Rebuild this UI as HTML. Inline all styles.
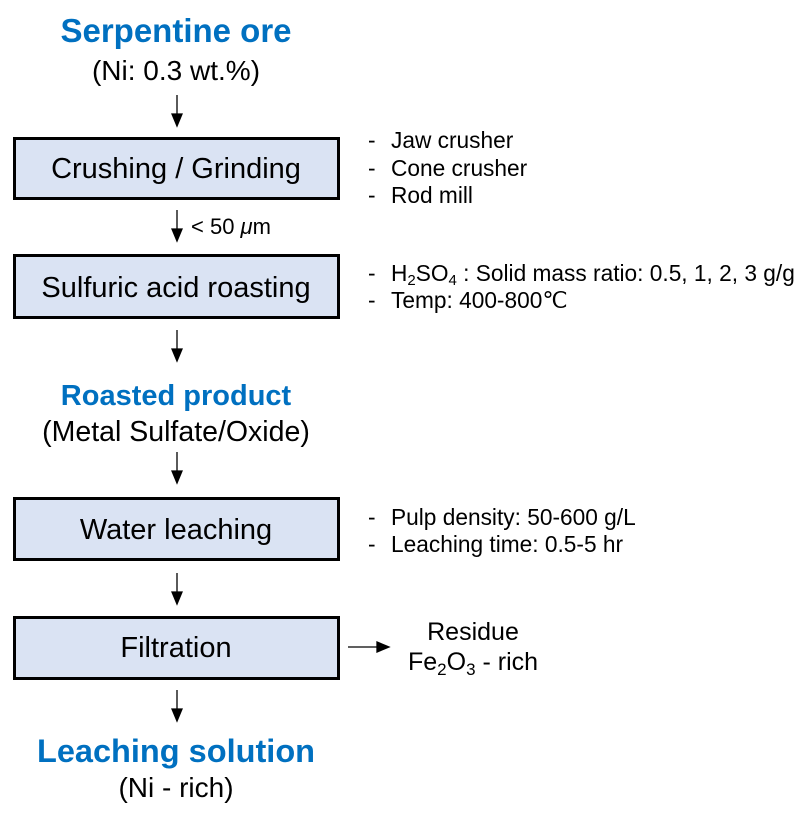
<!DOCTYPE html>
<html><head><style>
body{margin:0;background:#fff;width:810px;height:822px;overflow:hidden}
svg text{font-family:"Liberation Sans",sans-serif}
</style></head><body>
<svg width="810" height="822" xmlns="http://www.w3.org/2000/svg">
<g fill="#dae3f3" stroke="#000" stroke-width="3">
<rect x="14.5" y="138.5" width="324" height="60"/>
<rect x="14.5" y="255.5" width="324" height="62"/>
<rect x="14.5" y="498.5" width="324" height="61"/>
<rect x="14.5" y="617.5" width="324" height="61"/>
</g>
<g stroke="#000" stroke-width="1.3" fill="#000">
<line x1="177" y1="95" x2="177" y2="115"/><path d="M172,114 L182,114 L177,126 z"/>
<line x1="177" y1="210" x2="177" y2="230"/><path d="M172,229 L182,229 L177,241 z"/>
<line x1="177" y1="330" x2="177" y2="350"/><path d="M172,349 L182,349 L177,361 z"/>
<line x1="177" y1="452" x2="177" y2="472"/><path d="M172,471 L182,471 L177,483 z"/>
<line x1="177" y1="573" x2="177" y2="593"/><path d="M172,592 L182,592 L177,604 z"/>
<line x1="177" y1="690" x2="177" y2="710"/><path d="M172,709 L182,709 L177,721 z"/>
<line x1="348" y1="647" x2="378" y2="647"/><path d="M377,642 L377,652 L389,647 z"/>
</g>
<g text-anchor="middle">
<text x="176" y="42" font-size="33" font-weight="bold" fill="#0070c0">Serpentine ore</text>
<text x="176" y="80" font-size="28">(Ni: 0.3 wt.%)</text>
<text x="176" y="178" font-size="29">Crushing / Grinding</text>
<text x="176" y="297" font-size="29">Sulfuric acid roasting</text>
<text x="176" y="405" font-size="29" font-weight="bold" fill="#0070c0">Roasted product</text>
<text x="176" y="441" font-size="28.5">(Metal Sulfate/Oxide)</text>
<text x="176" y="539" font-size="29">Water leaching</text>
<text x="176" y="657" font-size="29">Filtration</text>
<text x="176" y="762" font-size="32.5" font-weight="bold" fill="#0070c0">Leaching solution</text>
<text x="176" y="797" font-size="28">(Ni - rich)</text>
<text x="473" y="640" font-size="25">Residue</text>
<text x="473" y="670" font-size="25">Fe<tspan font-size="17" dy="5">2</tspan><tspan dy="-5">O</tspan><tspan font-size="17" dy="5">3</tspan><tspan dy="-5"> - rich</tspan></text>
</g>
<text x="191" y="234" font-size="22">&lt; 50 <tspan font-style="italic">μ</tspan>m</text>
<g font-size="22.7">
<text x="368" y="148">-</text><text x="391" y="148">Jaw crusher</text>
<text x="368" y="176">-</text><text x="391" y="176">Cone crusher</text>
<text x="368" y="203">-</text><text x="391" y="203">Rod mill</text>
<text x="368" y="281">-</text><text x="391" y="281">H<tspan font-size="15" dy="4">2</tspan><tspan dy="-4">SO</tspan><tspan font-size="15" dy="4">4</tspan><tspan dy="-4"> : Solid mass ratio: 0.5, 1, 2, 3 g/g</tspan></text>
<text x="368" y="308">-</text><text x="391" y="308">Temp: 400-800℃</text>
<text x="368" y="525">-</text><text x="391" y="525">Pulp density: 50-600 g/L</text>
<text x="368" y="552">-</text><text x="391" y="552">Leaching time: 0.5-5 hr</text>
</g>
</svg>
</body></html>
